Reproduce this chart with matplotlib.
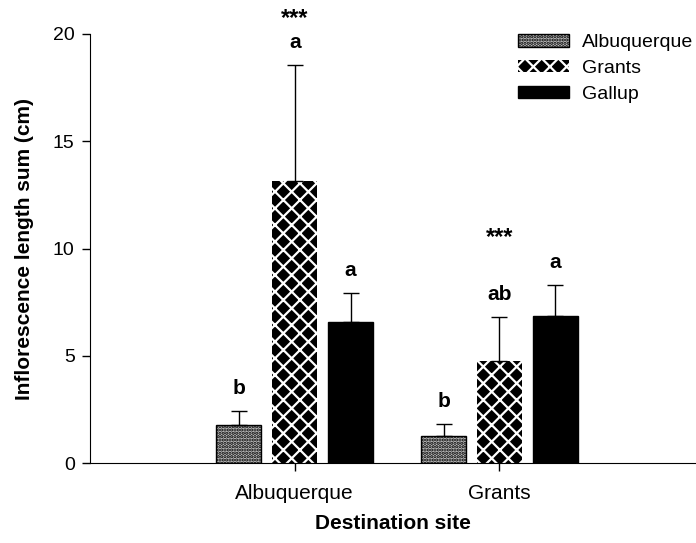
import numpy as np
import matplotlib
matplotlib.use('Agg')
import matplotlib.pyplot as plt

plt.rcParams['font.family'] = ['Liberation Sans', 'DejaVu Sans']
plt.rcParams['hatch.linewidth'] = 1.6

sites = ['Albuquerque', 'Grants']
sources = ['Albuquerque', 'Grants', 'Gallup']

# means and upper error (mean + SE)
means = {'Albuquerque': [1.77, 1.26],
         'Grants': [13.15, 4.76],
         'Gallup': [6.57, 6.85]}
err = {'Albuquerque': [0.65, 0.56],
       'Grants': [5.40, 2.05],
       'Gallup': [1.36, 1.45]}
letters = {'Albuquerque': ['b', 'b'],
           'Grants': ['a', 'ab'],
           'Gallup': ['a', 'a']}
stars = ['***', '***']
star_y = [20.7, 10.5]

styles = {'Albuquerque': dict(facecolor='#c0c0c0', edgecolor='black', hatch='.....', linewidth=1),
          'Grants': dict(facecolor='black', edgecolor='white', hatch='xx', linewidth=0),
          'Gallup': dict(facecolor='black', edgecolor='black', linewidth=1)}

fig = plt.figure(figsize=(6.96, 5.43), dpi=100)
ax = fig.add_axes([0.1293, 0.1473, 0.8707, 0.7901])

x = np.arange(len(sites))
w = 0.22
offs = [-0.273, 0.0, 0.273]

for i, s in enumerate(sources):
    pos = x + offs[i]
    ax.bar(pos, means[s], w, label=s, **styles[s])
    ax.errorbar(pos, means[s], yerr=[np.zeros(len(sites)), err[s]], fmt='none',
                ecolor='black', elinewidth=1, capsize=6, capthick=1)
    for j in range(len(sites)):
        top = means[s][j] + err[s][j]
        ax.text(pos[j], top + 1.05, letters[s][j], ha='center', va='center',
                fontsize=15, fontweight='bold')

# significance stars above the Grants-source bars
for j in range(len(sites)):
    ax.text(x[j], star_y[j], stars[j], ha='center', va='center',
            fontsize=17, fontweight='bold', clip_on=False)

ax.set_xlim(-1, 1.96)
ax.set_ylim(0, 20)
ax.set_yticks([0, 5, 10, 15, 20])
ax.set_xticks(x)
ax.set_xticklabels(sites)
ax.tick_params(direction='out', length=6, width=1, pad=5)
ax.tick_params(axis='x', labelsize=15, pad=9)
ax.tick_params(axis='y', labelsize=14)
ax.spines['top'].set_visible(False)
ax.spines['right'].set_visible(False)
ax.set_ylabel('Inflorescence length sum (cm)', fontsize=15, fontweight='bold', labelpad=14)
ax.set_xlabel('Destination site', fontsize=15, fontweight='bold', labelpad=8)

ax.legend(loc='upper right', bbox_to_anchor=(1.025, 1.04), frameon=False, fontsize=14,
          handlelength=2.6, handleheight=0.6, labelspacing=0.45, handletextpad=0.7)

fig.savefig('out.png', dpi=100)
